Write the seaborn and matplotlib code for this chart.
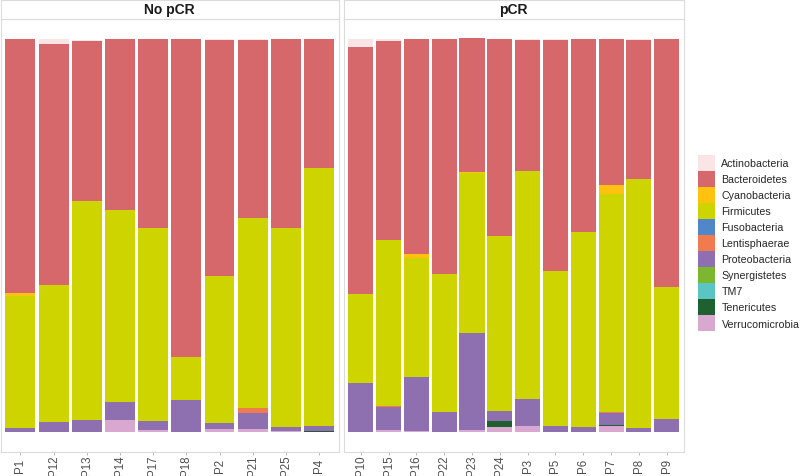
import matplotlib
matplotlib.use("Agg")
import matplotlib.pyplot as plt
from matplotlib.patches import Patch
import seaborn as sns
import pandas as pd

# samples, first the "No pCR" group, then the "pCR" group
samples = ["P1", "P12", "P13", "P14", "P17", "P18", "P2", "P21", "P25", "P4",
           "P10", "P15", "P16", "P22", "P23", "P24", "P3", "P5", "P6", "P7", "P8", "P9"]
groups = ["No pCR"] * 10 + ["pCR"] * 12

# relative abundance per phylum, same sample order
actinobacteria = [0.0, 0.011, 0.004, 0.0, 0.0, 0.0, 0.002, 0.002, 0.0, 0.0,
                  0.021, 0.004, 0.0, 0.0, 0.0, 0.0, 0.002, 0.002, 0.0, 0.0, 0.002, 0.0]
bacteroidetes = [0.646, 0.614, 0.406, 0.433, 0.482, 0.810, 0.601, 0.454, 0.481, 0.327,
                 0.628, 0.507, 0.547, 0.598, 0.342, 0.501, 0.335, 0.589, 0.491, 0.372, 0.354, 0.630]
cyanobacteria = [0.007, 0.0, 0.0, 0.0, 0.0, 0.0, 0.0, 0.0, 0.0, 0.0,
                 0.0, 0.0, 0.011, 0.0, 0.002, 0.0, 0.0, 0.0, 0.0, 0.023, 0.0, 0.0]
firmicutes = [0.337, 0.349, 0.557, 0.490, 0.490, 0.108, 0.374, 0.482, 0.506, 0.659,
              0.226, 0.424, 0.304, 0.351, 0.406, 0.445, 0.579, 0.394, 0.497, 0.556, 0.633, 0.337]
fusobacteria = [0.0] * 22
lentisphaerae = [0.0, 0.0, 0.0, 0.0, 0.0, 0.0, 0.0, 0.013, 0.0, 0.0,
                 0.0, 0.002, 0.0, 0.001, 0.001, 0.0, 0.0, 0.0, 0.0, 0.001, 0.0, 0.0]
proteobacteria = [0.010, 0.025, 0.031, 0.045, 0.023, 0.082, 0.015, 0.041, 0.010, 0.011,
                  0.125, 0.057, 0.136, 0.051, 0.246, 0.026, 0.069, 0.015, 0.012, 0.031, 0.011, 0.033]
synergistetes = [0.0] * 22
tm7 = [0.0] * 22
tenericutes = [0.0, 0.0, 0.0, 0.0, 0.0, 0.0, 0.0, 0.0, 0.0, 0.003,
               0.0, 0.0, 0.0, 0.0, 0.0, 0.015, 0.0, 0.0, 0.0, 0.003, 0.0, 0.0]
verrucomicrobia = [0.0, 0.0, 0.0, 0.031, 0.005, 0.0, 0.008, 0.008, 0.003, 0.0,
                   0.0, 0.006, 0.003, 0.0, 0.006, 0.013, 0.015, 0.0, 0.0, 0.015, 0.0, 0.0]

phyla = ["Actinobacteria", "Bacteroidetes", "Cyanobacteria", "Firmicutes", "Fusobacteria",
         "Lentisphaerae", "Proteobacteria", "Synergistetes", "TM7", "Tenericutes", "Verrucomicrobia"]
phylum_values = [actinobacteria, bacteroidetes, cyanobacteria, firmicutes, fusobacteria,
                 lentisphaerae, proteobacteria, synergistetes, tm7, tenericutes, verrucomicrobia]
colors = ["#fbe4e6", "#d6676b", "#ffc20e", "#cdd400", "#4f87c8", "#ef7b4f",
          "#8e6fb0", "#7cb82f", "#5bc4c4", "#1f5f30", "#d9a8d0"]

# long table, cumulative top of each segment (stacked from the last phylum up)
rows = []
for s, g, *vals in zip(samples, groups, *phylum_values):
    cum = 0.0
    for ph, v in reversed(list(zip(phyla, vals))):
        cum += v
        rows.append({"sample": s, "group": g, "phylum": ph, "value": v, "top": cum})
df = pd.DataFrame(rows)

sns.set_style("white")
plt.rcParams["font.family"] = ["Liberation Sans", "DejaVu Sans"]

W, H = 800, 477
fig = plt.figure(figsize=(W / 100, H / 100), dpi=100)

panels = [("No pCR", 0.5, 338.5), ("pCR", 344, 339.5)]
y_bot, y_top = 452.6, 20.4
border = "#dcdcdc"

for title, x0, w in panels:
    ax = fig.add_axes([x0 / W, (H - y_bot) / H, w / W, (y_bot - y_top) / H])
    sub = df[df["group"] == title]
    order = [s for s, g in zip(samples, groups) if g == title]
    # draw tallest segments first, lower ones paint over them
    for ph, col in zip(phyla, colors):
        d = sub[(sub["phylum"] == ph) & (sub["value"] > 0)]
        if d.empty:
            continue
        sns.barplot(data=d, x="sample", y="top", order=order, color=col,
                    width=0.9, linewidth=0, saturation=1, ax=ax)
    ax.set_xlim(-0.6, len(order) - 0.4)
    ax.set_ylim(-0.05, 1.05)
    ax.set_xlabel("")
    ax.set_ylabel("")
    ax.set_yticks([])
    ax.set_xticks(range(len(order)))
    ax.set_xticklabels(order, rotation=90, va="center", ha="center",
                       fontsize=8.3, color="#4d4d4d")
    ax.tick_params(axis="x", length=2.2, width=0.6, color="#b0b0b0", pad=7.4, bottom=True)
    for sp in ax.spines.values():
        sp.set_color(border)
        sp.set_linewidth(0.8)

    # facet strip
    sax = fig.add_axes([x0 / W, (H - 20.4) / H, w / W, 19.9 / H])
    sax.set_xticks([])
    sax.set_yticks([])
    sax.set_facecolor("white")
    for sp in sax.spines.values():
        sp.set_color(border)
        sp.set_linewidth(0.8)
    sax.text(0.5, 0.5, title, ha="center", va="center", fontsize=10,
             fontweight="bold", color="#1a1a1a", transform=sax.transAxes)

handles = [Patch(facecolor=c, edgecolor="none", label=p) for p, c in zip(phyla, colors)]
fig.legend(handles=handles, loc="center left", bbox_to_anchor=(691 / W, (H - 244) / H),
           frameon=False, fontsize=7.7, handlelength=1.5, handleheight=1.85,
           labelspacing=0.05, handletextpad=0.65, borderpad=0.2)

fig.savefig("out.png", dpi=100)
